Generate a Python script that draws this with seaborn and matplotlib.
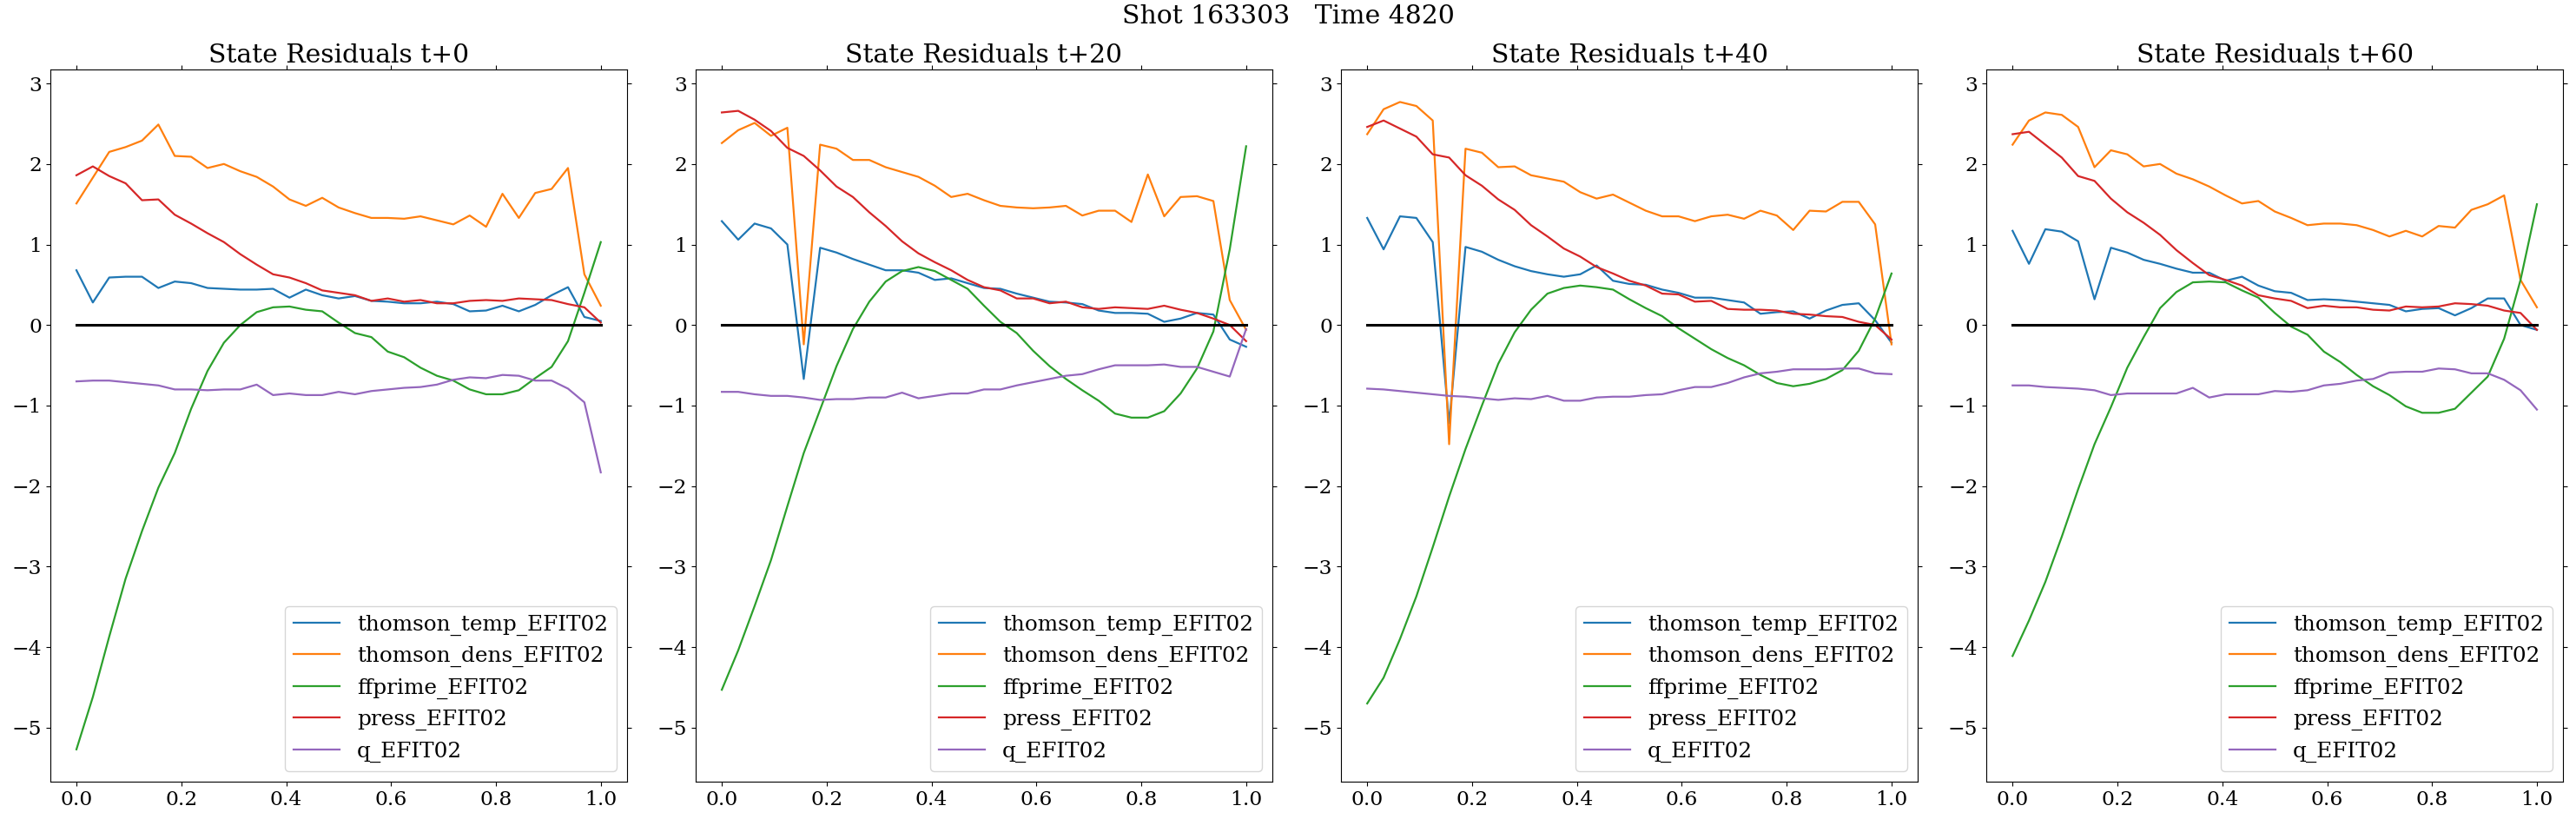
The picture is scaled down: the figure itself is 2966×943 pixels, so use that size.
import numpy as np
import pandas as pd
import seaborn as sns
import matplotlib.pyplot as plt

# radial grid (33 points from 0 to 1)
psi = np.linspace(0, 1, 33)

series_names = ['thomson_temp_EFIT02', 'thomson_dens_EFIT02', 'ffprime_EFIT02',
                'press_EFIT02', 'q_EFIT02']
panel_titles = ['State Residuals t+0', 'State Residuals t+20',
                'State Residuals t+40', 'State Residuals t+60']

# t+0
temp_t0 = [0.68, 0.28, 0.59, 0.60, 0.60, 0.46, 0.54, 0.52, 0.46, 0.45, 0.44, 0.44, 0.45, 0.34, 0.44, 0.37, 0.33,
           0.36, 0.30, 0.29, 0.27, 0.27, 0.29, 0.26, 0.17, 0.18, 0.24, 0.17, 0.25, 0.37, 0.47, 0.10, 0.05]
dens_t0 = [1.51, 1.83, 2.15, 2.21, 2.29, 2.49, 2.10, 2.09, 1.95, 2.00, 1.91, 1.84, 1.72, 1.56, 1.48, 1.58, 1.46,
           1.39, 1.33, 1.33, 1.32, 1.35, 1.30, 1.25, 1.36, 1.22, 1.63, 1.33, 1.64, 1.69, 1.95, 0.63, 0.24]
ffp_t0 = [-5.27, -4.62, -3.87, -3.15, -2.56, -2.02, -1.59, -1.04, -0.57, -0.22, 0.00, 0.16, 0.22, 0.23, 0.19, 0.17,
          0.03, -0.10, -0.15, -0.33, -0.40, -0.53, -0.63, -0.69, -0.80, -0.86, -0.86, -0.81, -0.66, -0.52, -0.20,
          0.40, 1.03]
press_t0 = [1.86, 1.97, 1.85, 1.76, 1.55, 1.56, 1.37, 1.26, 1.14, 1.03, 0.88, 0.75, 0.63, 0.59, 0.52, 0.43, 0.40,
            0.37, 0.30, 0.33, 0.29, 0.31, 0.27, 0.27, 0.30, 0.31, 0.30, 0.33, 0.32, 0.31, 0.26, 0.22, 0.03]
q_t0 = [-0.70, -0.69, -0.69, -0.71, -0.73, -0.75, -0.80, -0.80, -0.81, -0.80, -0.80, -0.74, -0.87, -0.85, -0.87,
        -0.87, -0.83, -0.86, -0.82, -0.80, -0.78, -0.77, -0.74, -0.68, -0.65, -0.66, -0.62, -0.63, -0.69, -0.69,
        -0.79, -0.96, -1.83]

# t+20
temp_t20 = [1.29, 1.06, 1.26, 1.20, 1.00, -0.67, 0.96, 0.90, 0.82, 0.75, 0.68, 0.68, 0.65, 0.56, 0.58, 0.52, 0.46,
            0.45, 0.39, 0.34, 0.29, 0.28, 0.26, 0.18, 0.15, 0.15, 0.14, 0.04, 0.08, 0.15, 0.13, -0.18, -0.27]
dens_t20 = [2.26, 2.42, 2.51, 2.35, 2.45, -0.24, 2.24, 2.19, 2.05, 2.05, 1.96, 1.90, 1.84, 1.73, 1.59, 1.63, 1.55,
            1.48, 1.46, 1.45, 1.46, 1.48, 1.36, 1.42, 1.42, 1.28, 1.87, 1.35, 1.59, 1.60, 1.54, 0.31, -0.06]
ffp_t20 = [-4.53, -4.04, -3.49, -2.92, -2.25, -1.59, -1.05, -0.51, -0.05, 0.29, 0.54, 0.67, 0.72, 0.67, 0.56, 0.45,
           0.24, 0.04, -0.10, -0.32, -0.51, -0.67, -0.81, -0.94, -1.10, -1.15, -1.15, -1.07, -0.85, -0.54, -0.08,
           0.94, 2.22]
press_t20 = [2.64, 2.66, 2.55, 2.41, 2.20, 2.10, 1.92, 1.72, 1.59, 1.40, 1.23, 1.04, 0.89, 0.78, 0.68, 0.56, 0.47,
             0.43, 0.33, 0.33, 0.27, 0.29, 0.22, 0.20, 0.22, 0.21, 0.20, 0.24, 0.19, 0.15, 0.08, 0.00, -0.20]
q_t20 = [-0.83, -0.83, -0.86, -0.88, -0.88, -0.90, -0.93, -0.92, -0.92, -0.90, -0.90, -0.84, -0.91, -0.88, -0.85,
         -0.85, -0.80, -0.80, -0.75, -0.71, -0.67, -0.63, -0.61, -0.55, -0.50, -0.50, -0.50, -0.49, -0.52, -0.52,
         -0.58, -0.64, -0.05]

# t+40
temp_t40 = [1.33, 0.94, 1.35, 1.33, 1.03, -1.22, 0.97, 0.91, 0.81, 0.73, 0.67, 0.63, 0.60, 0.63, 0.74, 0.55, 0.51,
            0.50, 0.44, 0.40, 0.34, 0.34, 0.31, 0.28, 0.14, 0.16, 0.17, 0.08, 0.18, 0.25, 0.27, 0.06, -0.22]
dens_t40 = [2.37, 2.68, 2.77, 2.72, 2.54, -1.48, 2.19, 2.14, 1.96, 1.97, 1.86, 1.82, 1.78, 1.65, 1.57, 1.62, 1.52,
            1.42, 1.35, 1.35, 1.29, 1.35, 1.37, 1.32, 1.42, 1.36, 1.18, 1.42, 1.41, 1.53, 1.53, 1.25, -0.24]
ffp_t40 = [-4.70, -4.38, -3.90, -3.37, -2.76, -2.13, -1.54, -1.00, -0.48, -0.09, 0.19, 0.39, 0.46, 0.49, 0.47, 0.44,
           0.32, 0.21, 0.11, -0.04, -0.17, -0.30, -0.41, -0.50, -0.62, -0.72, -0.76, -0.73, -0.67, -0.56, -0.32,
           0.08, 0.64]
press_t40 = [2.46, 2.54, 2.44, 2.34, 2.12, 2.08, 1.86, 1.73, 1.56, 1.43, 1.24, 1.10, 0.95, 0.85, 0.72, 0.64, 0.55,
             0.49, 0.39, 0.38, 0.29, 0.30, 0.20, 0.19, 0.19, 0.18, 0.14, 0.13, 0.11, 0.10, 0.04, 0.00, -0.18]
q_t40 = [-0.79, -0.80, -0.82, -0.84, -0.86, -0.88, -0.89, -0.91, -0.93, -0.91, -0.92, -0.88, -0.94, -0.94, -0.90,
         -0.89, -0.89, -0.87, -0.86, -0.81, -0.77, -0.77, -0.72, -0.65, -0.60, -0.58, -0.55, -0.55, -0.55, -0.54,
         -0.54, -0.60, -0.61]

# t+60
temp_t60 = [1.17, 0.76, 1.19, 1.16, 1.04, 0.32, 0.96, 0.90, 0.81, 0.76, 0.70, 0.65, 0.65, 0.55, 0.60, 0.49, 0.42,
            0.40, 0.31, 0.32, 0.31, 0.29, 0.27, 0.25, 0.17, 0.20, 0.21, 0.12, 0.21, 0.33, 0.33, 0.00, -0.06]
dens_t60 = [2.24, 2.54, 2.64, 2.61, 2.46, 1.96, 2.17, 2.12, 1.97, 2.00, 1.88, 1.81, 1.72, 1.61, 1.51, 1.54, 1.41,
            1.33, 1.24, 1.26, 1.26, 1.24, 1.18, 1.10, 1.17, 1.10, 1.23, 1.21, 1.43, 1.50, 1.61, 0.56, 0.22]
ffp_t60 = [-4.11, -3.67, -3.19, -2.63, -2.04, -1.48, -1.02, -0.53, -0.15, 0.21, 0.41, 0.53, 0.54, 0.53, 0.43, 0.34,
           0.15, -0.02, -0.12, -0.33, -0.46, -0.62, -0.76, -0.87, -1.01, -1.09, -1.09, -1.04, -0.84, -0.64, -0.17,
           0.56, 1.50]
press_t60 = [2.37, 2.40, 2.24, 2.08, 1.85, 1.79, 1.57, 1.40, 1.27, 1.12, 0.93, 0.77, 0.62, 0.56, 0.49, 0.37, 0.33,
             0.30, 0.21, 0.24, 0.22, 0.22, 0.19, 0.18, 0.23, 0.22, 0.23, 0.27, 0.26, 0.24, 0.18, 0.15, -0.06]
q_t60 = [-0.75, -0.75, -0.77, -0.78, -0.79, -0.81, -0.87, -0.85, -0.85, -0.85, -0.85, -0.78, -0.90, -0.86, -0.86,
         -0.86, -0.82, -0.83, -0.81, -0.75, -0.73, -0.69, -0.67, -0.59, -0.58, -0.58, -0.54, -0.55, -0.60, -0.60,
         -0.68, -0.81, -1.05]

paineis = [
    [temp_t0, dens_t0, ffp_t0, press_t0, q_t0],
    [temp_t20, dens_t20, ffp_t20, press_t20, q_t20],
    [temp_t40, dens_t40, ffp_t40, press_t40, q_t40],
    [temp_t60, dens_t60, ffp_t60, press_t60, q_t60],
]

plt.rcParams['font.family'] = ['DejaVu Serif']
cores = sns.color_palette('tab10', 5)

fig, axes = plt.subplots(1, 4, figsize=(29.66, 9.43), dpi=100, sharey=True)
fig.subplots_adjust(left=0.0195, right=0.995, top=0.915, bottom=0.0455, wspace=0.119)

for ax, titulo, dados in zip(axes, panel_titles, paineis):
    for nome, valores, cor in zip(series_names, dados, cores):
        df = pd.DataFrame({'psi': psi, 'residual': valores})
        sns.lineplot(data=df, x='psi', y='residual', ax=ax, color=cor, label=nome, linewidth=1.6)
    # linha de referencia em zero
    ax.plot(psi, np.zeros_like(psi), color='k', linewidth=2.2)
    ax.set_title(titulo, fontsize=21.4)
    ax.set_xlabel('')
    ax.set_ylabel('')
    ax.tick_params(axis='both', which='both', top=True, right=True, labelleft=True, labelsize=16.8)
    ax.legend(loc='lower right', fontsize=17.8, handlelength=2.15)

fig.suptitle('Shot 163303   Time 4820', fontsize=21.5, y=0.995)

plt.savefig('out.png', dpi=100)
plt.close()
